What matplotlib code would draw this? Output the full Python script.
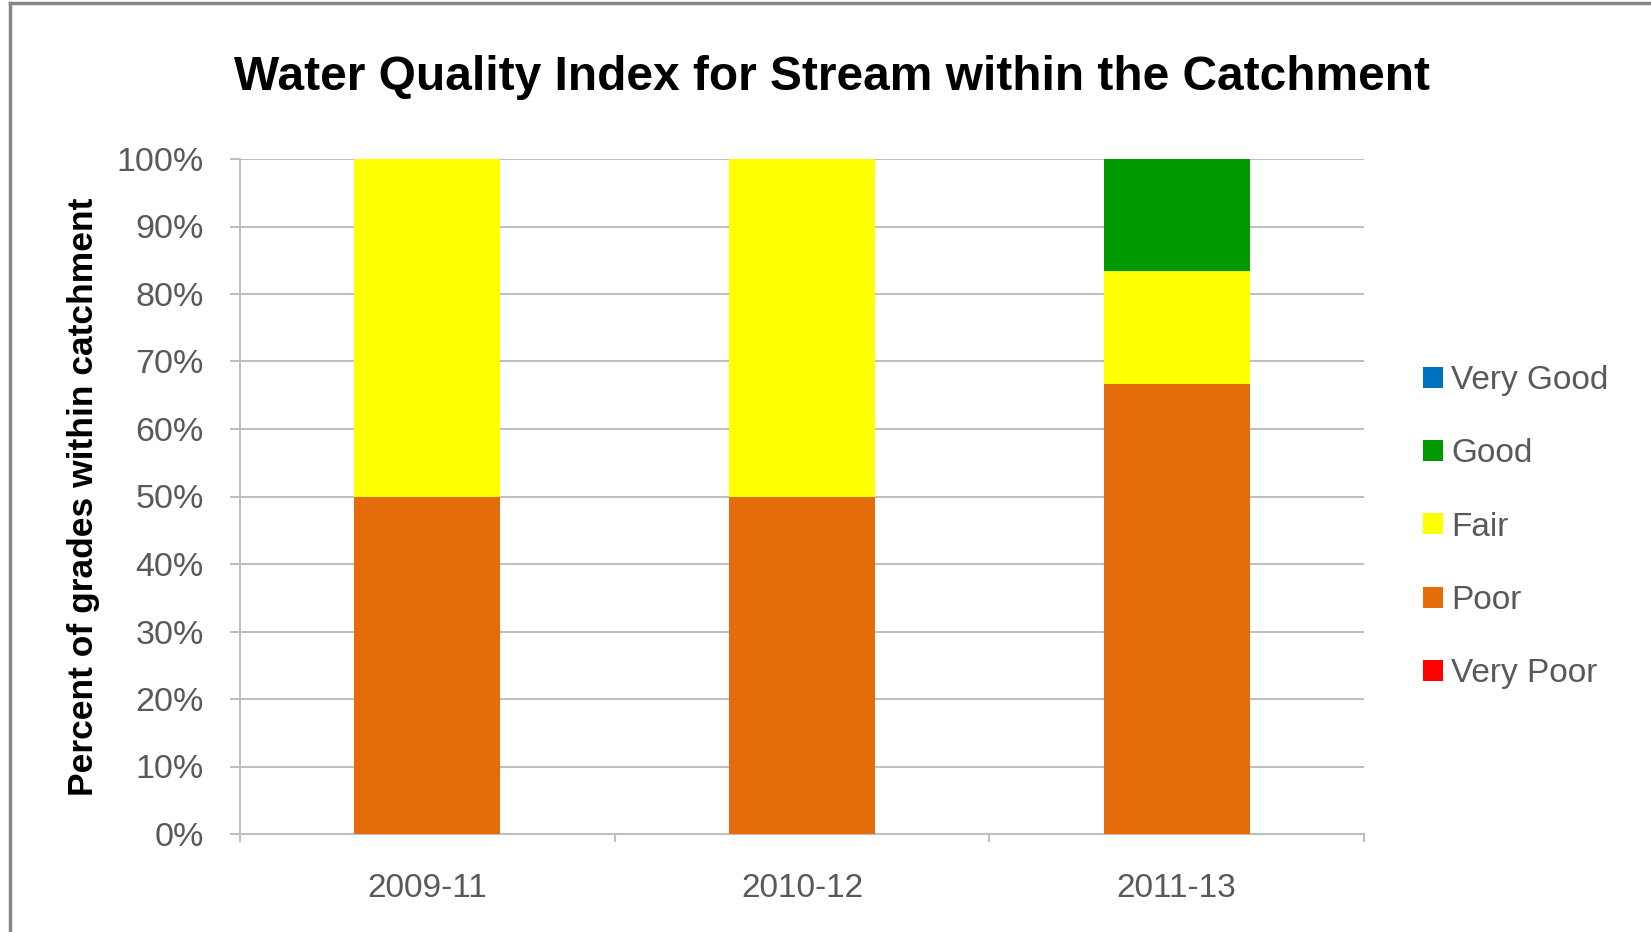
import matplotlib
matplotlib.use("Agg")
import matplotlib.pyplot as plt
from matplotlib.ticker import PercentFormatter
from matplotlib.lines import Line2D
import numpy as np

# data
periods = ["2009-11", "2010-12", "2011-13"]
grades = ["Very Poor", "Poor", "Fair", "Good", "Very Good"]
very_poor = [0.0, 0.0, 0.0]
poor = [0.50, 0.50, 0.667]
fair = [0.50, 0.50, 0.1665]
good = [0.0, 0.0, 0.1665]
very_good = [0.0, 0.0, 0.0]
colours = ["#FF0000", "#E46C0A", "#FFFF00", "#009900", "#0070C0"]

plt.rcParams['font.family'] = ['Liberation Sans', 'DejaVu Sans']
grey = "#595959"
axcol = "#BFBFBF"

fig = plt.figure(figsize=(16.51, 9.32), dpi=100)
ax = fig.add_axes([240/1651, 1-834/932, (1364-240)/1651, (834-159)/932])

x = np.arange(len(periods))
bottom = np.zeros(len(periods))
handles = []
for vals, lab, c in zip([very_poor, poor, fair, good, very_good], grades, colours):
    b = ax.bar(x, vals, 0.39, bottom=bottom, color=c, label=lab, zorder=3)
    bottom += np.array(vals)
    handles.append(b)

ax.set_xlim(-0.5, 2.5)
ax.set_ylim(0, 1)
ax.set_yticks(np.linspace(0, 1, 11))
ax.yaxis.set_major_formatter(PercentFormatter(1.0, decimals=0))
ax.grid(axis='y', color=axcol, lw=1.5, zorder=0)
ax.set_axisbelow(True)
for s in ['top', 'right']:
    ax.spines[s].set_visible(False)
for s in ['left', 'bottom']:
    ax.spines[s].set_color(axcol)
    ax.spines[s].set_linewidth(1.5)

ax.set_xticks(x)
ax.set_xticklabels(periods)
ax.set_xticks([-0.5, 0.5, 1.5, 2.5], minor=True)
ax.tick_params(axis='x', which='major', length=0, pad=28, labelsize=24, labelcolor=grey)
ax.tick_params(axis='x', which='minor', length=6, width=1.5, color=axcol)
ax.tick_params(axis='y', length=7, width=1.5, color=axcol, pad=19, labelsize=24.5, labelcolor=grey)

fig.text(84/1651, 0.467, "Percent of grades within catchment", rotation=90,
         ha='center', va='center', fontsize=25.5, fontweight='bold')
fig.text(0.504, 0.917, "Water Quality Index for Stream within the Catchment",
         ha='center', va='center', fontsize=34.5, fontweight='bold')

leg = fig.legend(handles[::-1], grades[::-1], loc='center left',
                 bbox_to_anchor=(1423/1651, 0.4345), frameon=False,
                 fontsize=24, labelcolor=grey, handlelength=0.6, handleheight=0.6,
                 handletextpad=0.25, labelspacing=1.27, borderpad=0, borderaxespad=0)

# chart border (top and left visible in the reference)
fig.add_artist(Line2D([10/1651, 10/1651], [0, 1-3/932], transform=fig.transFigure, color="#868686", lw=2.5))
fig.add_artist(Line2D([10/1651, 1], [1-3/932, 1-3/932], transform=fig.transFigure, color="#868686", lw=2.5))

fig.savefig("out.png", dpi=100)
